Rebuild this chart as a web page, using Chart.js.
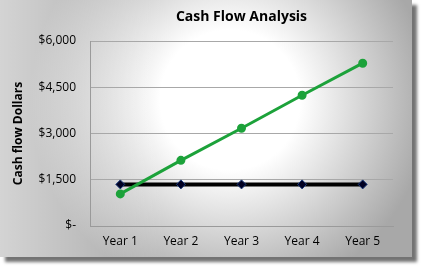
<!DOCTYPE html>
<html lang="en">
<head>
    <meta charset="UTF-8">
    <title>Cash Flow Analysis</title>
    <script src="https://cdn.jsdelivr.net/npm/chart.js"></script>
    <style>
        html, body {
            margin: 0;
            padding: 0;
            background: #fff;
        }
        .panel {
            position: absolute;
            left: 0;
            top: 0;
            width: 412px;
            height: 257px;
            background:
                linear-gradient(to right, rgba(255,255,255,0.5), rgba(255,255,255,0) 40%),
                radial-gradient(ellipse 200px 200px at 230px 100px, #ffffff 0%, #ffffff 35%, #a8a8a8 100%);
            box-shadow: 5px 5px 3px rgba(0, 0, 0, 0.55);
        }
    </style>
</head>
<body>
    <div class="panel">
        <canvas id="cashChart"></canvas>
    </div>

    <script>
        const years = ['Year 1', 'Year 2', 'Year 3', 'Year 4', 'Year 5'];
        const growingFlow = [1040, 2130, 3170, 4240, 5280];
        const flatFlow = [1350, 1350, 1350, 1350, 1350];
        const yTickLabels = ['$-', '$1,500', '$3,000', '$4,500', '$6,000'];

        const font = "'Open Sans', 'Noto Sans', sans-serif";

        // title centred over the plot area, not the whole canvas
        const plotTitle = {
            id: 'plotTitle',
            afterDraw(chart) {
                const { ctx, chartArea } = chart;
                ctx.save();
                ctx.font = "bold 14px " + font;
                ctx.fillStyle = '#000';
                ctx.textAlign = 'center';
                ctx.textBaseline = 'middle';
                ctx.fillText('Cash Flow Analysis', (chartArea.left + chartArea.right) / 2, 17);
                ctx.restore();
            }
        };

        new Chart(document.getElementById('cashChart'), {
            type: 'line',
            data: {
                labels: years,
                datasets: [{
                    label: 'Growth',
                    data: growingFlow,
                    borderColor: '#1ca23a',
                    backgroundColor: '#1ca23a',
                    borderWidth: 3,
                    pointRadius: 3,
                    pointHoverRadius: 3,
                    tension: 0
                }, {
                    label: 'Flat',
                    data: flatFlow,
                    borderColor: '#000',
                    backgroundColor: '#000022',
                    pointBorderColor: '#1c3c7c',
                    pointBorderWidth: 1,
                    borderWidth: 4,
                    pointStyle: 'rectRot',
                    pointRadius: 4.5,
                    pointHoverRadius: 4.5,
                    tension: 0
                }]
            },
            options: {
                responsive: true,
                maintainAspectRatio: false,
                animation: false,
                layout: { padding: { top: 41, right: 19, bottom: 0, left: 0 } },
                plugins: {
                    legend: { display: false },
                    tooltip: { enabled: false },
                    title: { display: false }
                },
                scales: {
                    x: {
                        offset: true,
                        grid: { display: false, drawTicks: false },
                        border: { display: true, color: '#9a9a9a', width: 1 },
                        ticks: { color: '#000', font: { family: font, size: 12 }, padding: 8 },
                        afterFit(scale) { scale.height = 31; }
                    },
                    y: {
                        min: 0,
                        max: 6000,
                        grid: { color: '#a8a8a8', drawTicks: false, tickLength: 0 },
                        border: { display: true, color: '#9a9a9a', width: 1 },
                        ticks: {
                            stepSize: 1500,
                            color: '#000',
                            font: { family: font, size: 12 },
                            padding: 14,
                            callback: (v, i) => yTickLabels[i]
                        },
                        title: {
                            display: true,
                            text: 'Cash flow Dollars',
                            color: '#000',
                            font: { family: font, size: 12, weight: 'bold' },
                            padding: { top: 11, bottom: 4 }
                        },
                        afterFit(scale) { scale.width = 90; }
                    }
                }
            },
            plugins: [plotTitle]
        });
    </script>
</body>
</html>
